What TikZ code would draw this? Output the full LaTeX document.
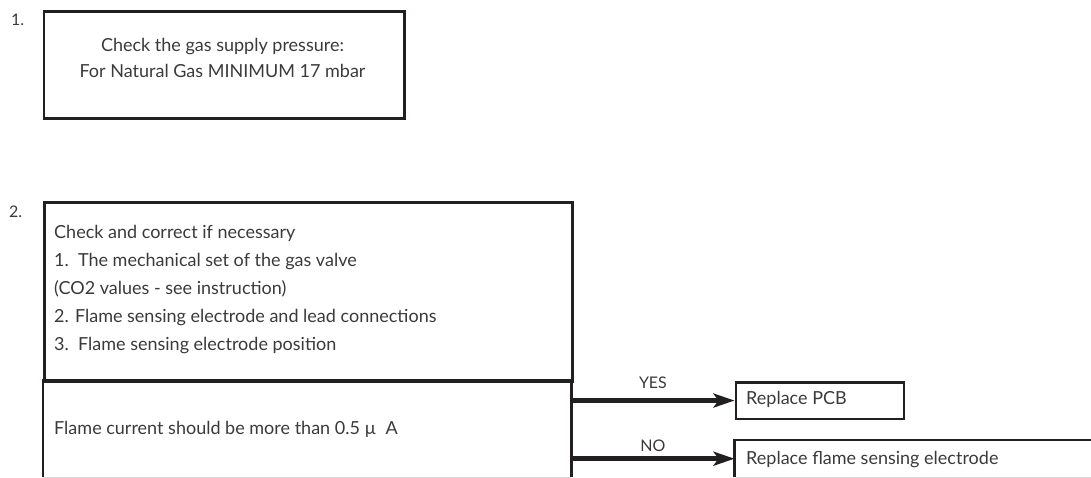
\documentclass[tikz,border=0pt]{standalone}
\usepackage{fontspec}
\setmainfont{Lato}
\usetikzlibrary{arrows.meta}
\definecolor{ink}{HTML}{231F20}
\definecolor{txt}{HTML}{3A3A3A}
\tikzset{
  boxline/.style={draw=ink, line width=2.6pt},
  frame/.style={boxline, rectangle, inner sep=0pt, anchor=north west},
  open/.style={draw=none, rectangle, inner sep=0pt, anchor=north west},
  bottomline/.style={draw=black!15, line width=0.8pt},
  txtstyle/.style={text=txt, font=\fontsize{18}{27}\selectfont, inner sep=0pt},
  arr/.style={draw=ink, line width=4.5pt, -{Stealth[length=21pt, width=14pt, inset=5pt]}},
  lbl/.style={txtstyle, font=\fontsize{16}{20}\selectfont}
}
\begin{document}
\begin{tikzpicture}[x=1pt, y=-1pt]
\useasboundingbox (0,0) rectangle (1091,478);
% step numbers
\node[lbl, anchor=north west] (n1) at (11,14) {1.};
\node[lbl, anchor=north west] (n2) at (9,206) {2.};
% box 1
\node[frame, minimum width=360.5pt, minimum height=107pt] (b1) at (42.5,10.5) {};
\node[txtstyle, align=center, font=\fontsize{18}{26}\selectfont] (t1) at (222.5,58) {Check the gas supply pressure:\\For Natural Gas MINIMUM 17 mbar};
% box 2 upper
\node[frame, minimum width=528pt, minimum height=179pt] (b2a) at (43,201) {};
\node[txtstyle, align=left, anchor=north west, font=\fontsize{18}{28}\selectfont] (t2) at (54,225) {Check and correct if necessary\\1.\ \ The mechanical set of the gas valve\\(CO2 values - see instruction)\\2. Flame sensing electrode and lead connections\\3.\ \ Flame sensing electrode position};
% box 2 lower
\node[open, minimum width=528pt, minimum height=97pt] (b2b) at (43,380) {};
\draw[boxline] (b2b.south west) -- (b2b.north west) -- (b2b.north east) -- (b2b.south east);
\draw[bottomline] (b2b.south west) -- (b2b.south east);
\node[txtstyle, anchor=west] (t3) at (54,429) {Flame current should be more than 0.5 µ\ \ A};
% replace PCB
\node[frame, minimum width=168pt, minimum height=36.5pt] (pcb) at (734.5,381) {};
\node[txtstyle, anchor=west] (t4) at (746,399.5) {Replace PCB};
% replace flame sensing electrode
\node[open, minimum width=360pt, minimum height=37pt] (fse) at (734.5,440) {};
\draw[boxline] (fse.south west) -- (fse.north west) -- (fse.north east);
\draw[bottomline] (fse.south west) -- (fse.south east);
\node[txtstyle, anchor=west] (t5) at (746,459.5) {Replace flame sensing electrode};
% arrows
\draw[arr] (b2b.east |- pcb.west) -- (pcb.west) node[lbl, midway, above=10pt] (yes) {YES};
\draw[arr] (b2b.east |- fse.west) -- (fse.west) node[lbl, midway, above=5pt] (no) {NO};
\end{tikzpicture}
\end{document}
